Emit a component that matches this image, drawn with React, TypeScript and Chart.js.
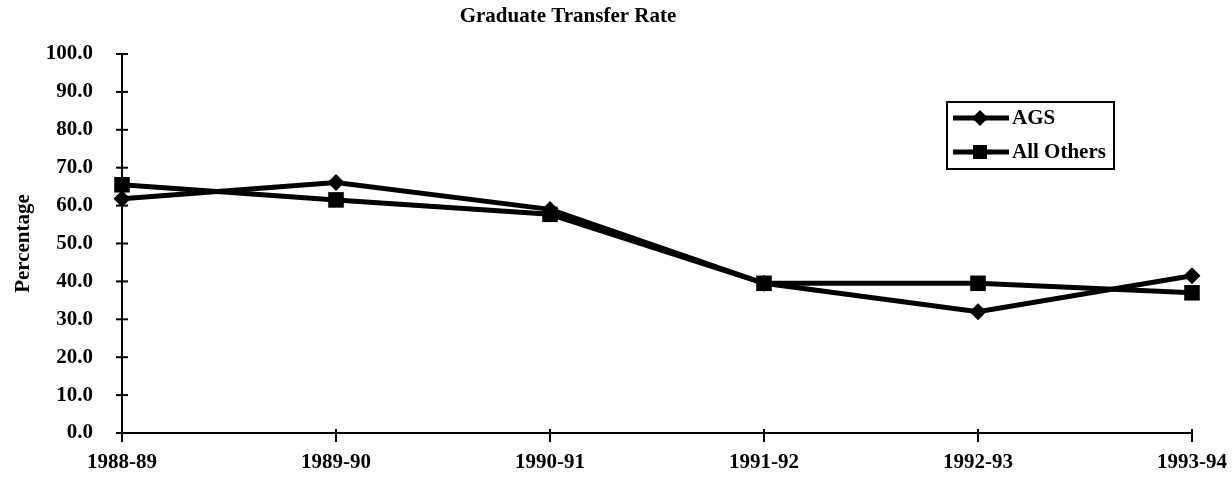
import React, { useEffect, useRef } from "react";
import { Chart, registerables } from "chart.js";

Chart.register(...registerables);

const categories = ["1988-89", "1989-90", "1990-91", "1991-92", "1992-93", "1993-94"];
const agsValues = [61.8, 66.1, 59.0, 39.5, 32.0, 41.5];
const othersValues = [65.5, 61.5, 57.7, 39.5, 39.5, 37.0];
const seriesNames = ["AGS", "All Others"];
const chartTitle = "Graduate Transfer Rate";
const yTitle = "Percentage";

const SERIF = "'Liberation Serif', 'Times New Roman', serif";

const customPlugin = {
  id: "custom",
  afterDraw(chart: any) {
    const ctx = chart.ctx;
    const xs = chart.scales.x;
    const ys = chart.scales.y;
    const area = chart.chartArea;
    ctx.save();
    // crossing tick marks
    ctx.strokeStyle = "#000";
    ctx.lineWidth = 2;
    ys.ticks.forEach((_t: any, i: number) => {
      const y = ys.getPixelForTick(i);
      ctx.beginPath();
      ctx.moveTo(area.left - 6, y);
      ctx.lineTo(area.left + 6, y);
      ctx.stroke();
    });
    xs.ticks.forEach((_t: any, i: number) => {
      const x = xs.getPixelForTick(i);
      ctx.beginPath();
      ctx.moveTo(x, area.bottom - 4);
      ctx.lineTo(x, area.bottom + 9);
      ctx.stroke();
    });
    // title
    ctx.fillStyle = "#000";
    ctx.font = "bold 21px " + SERIF;
    ctx.textAlign = "center";
    ctx.textBaseline = "middle";
    ctx.fillText(chartTitle, 568, 17);
    // legend
    const bx = 947, by = 102, bw = 167, bh = 67;
    ctx.lineWidth = 2;
    ctx.strokeRect(bx, by, bw, bh);
    const rows = [by + 16, by + 50];
    chart.data.datasets.forEach((ds: any, i: number) => {
      const y = rows[i];
      ctx.lineWidth = 5;
      ctx.beginPath();
      ctx.moveTo(bx + 6, y);
      ctx.lineTo(bx + 62, y);
      ctx.stroke();
      ctx.fillStyle = "#000";
      ctx.beginPath();
      if (ds.pointStyle === "rectRot") {
        const r = 8;
        ctx.moveTo(bx + 33, y - r);
        ctx.lineTo(bx + 33 + r, y);
        ctx.lineTo(bx + 33, y + r);
        ctx.lineTo(bx + 33 - r, y);
        ctx.closePath();
      } else {
        ctx.rect(bx + 33 - 7, y - 7, 14, 14);
      }
      ctx.fill();
      ctx.font = "bold 21px " + SERIF;
      ctx.textAlign = "left";
      ctx.textBaseline = "middle";
      ctx.fillText(ds.label, bx + 65, y + 1);
    });
    ctx.restore();
  },
};

export default function App() {
  const ref = useRef<HTMLCanvasElement>(null);
  useEffect(() => {
    if (!ref.current) return;
    const chart = new Chart(ref.current, {
      type: "line",
      data: {
        labels: categories,
        datasets: [
          {
            label: seriesNames[0],
            data: agsValues,
            borderColor: "#000",
            backgroundColor: "#000",
            borderWidth: 5,
            pointStyle: "rectRot",
            pointRadius: 8.5,
            pointHoverRadius: 8.5,
            pointBorderWidth: 0,
            tension: 0,
          },
          {
            label: seriesNames[1],
            data: othersValues,
            borderColor: "#000",
            backgroundColor: "#000",
            borderWidth: 5,
            pointStyle: "rect",
            pointRadius: 11,
            pointHoverRadius: 11,
            pointBorderWidth: 0,
            tension: 0,
          },
        ],
      },
      options: {
        animation: false,
        responsive: false,
        maintainAspectRatio: false,
        layout: { padding: { top: 54, left: 0, right: 40, bottom: 0 } },
        plugins: {
          legend: { display: false },
          title: { display: false },
          tooltip: { enabled: false },
        },
        scales: {
          x: {
            type: "category",
            offset: false,
            grid: { display: false, drawTicks: false },
            border: { display: true, color: "#000", width: 2 },
            ticks: {
              color: "#000",
              padding: 17,
              maxRotation: 0,
              autoSkip: false,
              font: { family: SERIF, size: 21, weight: "bold" },
            },
            afterFit: (s: any) => {
              s.height = 44;
              s.paddingLeft = 0;
              s.paddingRight = 0;
            },
          },
          y: {
            min: 0,
            max: 100,
            grid: { display: false, drawTicks: false },
            border: { display: true, color: "#000", width: 2 },
            ticks: {
              stepSize: 10,
              color: "#000",
              padding: 29,
              callback: (v: any) => Number(v).toFixed(1),
              font: { family: SERIF, size: 21, weight: "bold" },
            },
            title: {
              display: true,
              text: yTitle,
              color: "#000",
              padding: { top: 11, bottom: 0 },
              font: { family: SERIF, size: 21, weight: "bold" },
            },
            afterFit: (s: any) => {
              s.width = 122;
            },
          },
        },
      },
      plugins: [customPlugin],
    });
    return () => chart.destroy();
  }, []);
  return (
    <div style={{ position: "absolute", left: 0, top: 0, width: 1232, height: 477, background: "#fff" }}>
      <canvas ref={ref} width={1232} height={477} />
    </div>
  );
}
